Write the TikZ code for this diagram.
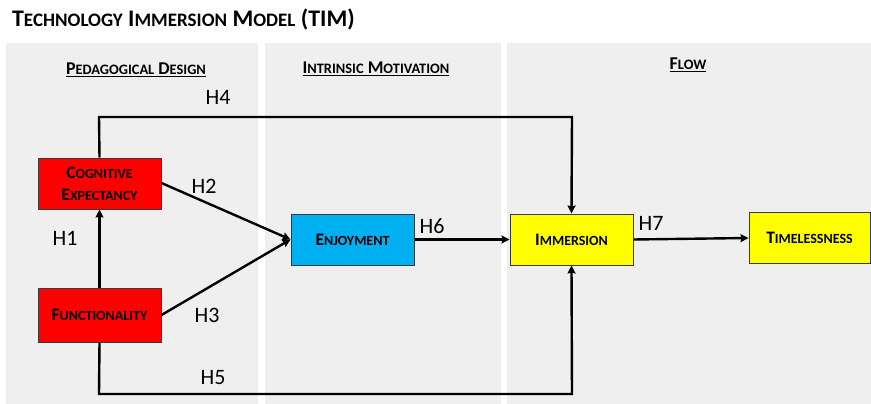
\documentclass[tikz,border=0pt]{standalone}
\usepackage{fontspec}
\setmainfont{Carlito}
\usetikzlibrary{arrows.meta}
\makeatletter
\newcommand\smc[1]{{\dimen0=\f@size pt\dimen0=0.8\dimen0\fontsize{\strip@pt\dimen0}{0}\selectfont #1}}
\makeatother
\definecolor{panelgray}{HTML}{EFEFEF}
\definecolor{boxred}{HTML}{FF0000}
\definecolor{boxblue}{HTML}{00B0F0}
\definecolor{boxyellow}{HTML}{FFFF00}
\definecolor{edgegray}{HTML}{3A3A3A}
\tikzset{
  panel/.style={fill=panelgray, draw=none},
  cbox/.style={draw=edgegray, line width=1pt, minimum width=123pt, minimum height=51pt, inner sep=0pt, align=center, font=\fontsize{17.5}{18}\selectfont\bfseries},
  conn/.style={line width=2.4pt, -{Stealth[length=8pt,width=8pt,inset=1pt]}},
  hlab/.style={font=\fontsize{22}{24}\selectfont, inner sep=0pt},
  header/.style={font=\fontsize{18}{20}\selectfont\bfseries, inner sep=0pt},
}
\begin{document}
\begin{tikzpicture}[x=1pt,y=-1pt]
\useasboundingbox (0,0) rectangle (871,404);
\fill[white] (0,0) rectangle (871,404);
% panels
\fill[panelgray] (6,43) rectangle (258,404);
\fill[panelgray] (265,43) rectangle (501,404);
\fill[panelgray] (507,43) rectangle (871,404);
% title
\node[anchor=west, inner sep=0pt, font=\fontsize{23.8}{26}\selectfont\bfseries] (title) at (12,19) {T\smc{ECHNOLOGY} I\smc{MMERSION} M\smc{ODEL} (TIM)};
% headers
\node[header] (h1) at (136,70) {\underline{P\smc{EDAGOGICAL} D\smc{ESIGN}}};
\node[header] (h2) at (376,69) {\underline{I\smc{NTRINSIC} M\smc{OTIVATION}}};
\node[header] (h3) at (688,65) {\underline{F\smc{LOW}}};
% boxes
\node[cbox, fill=boxred] (ce) at (99.5,183.5) {C\smc{OGNITIVE}\\[4pt]E\smc{XPECTANCY}};
\node[cbox, fill=boxred, minimum height=54pt] (fu) at (99.5,315) {F\smc{UNCTIONALITY}};
\node[cbox, fill=boxblue] (en) at (352.5,239.5) {E\smc{NJOYMENT}};
\node[cbox, fill=boxyellow] (im) at (571.5,239.5) {I\smc{MMERSION}};
\node[cbox, fill=boxyellow, minimum width=121pt] (ti) at (809.5,238) {T\smc{IMELESSNESS}};
% corner coordinates
\coordinate (c4a) at (99,117);
\coordinate (c4b) at (572,117);
\coordinate (c5a) at (99,394);
\coordinate (c5b) at (572,394);
% connectors
\draw[conn] (fu.north) -- (ce.south);
\draw[conn] (ce.east |- 0,183) -- (en.west);
\draw[conn] (fu.east) -- (en.west);
\draw[conn] (en.east) -- (im.west);
\draw[conn] (im.east) -- (ti.west);
\draw[conn] (ce.north) -- (c4a) -- (c4b) -- (im.north);
\draw[conn] (fu.south) -- (c5a) -- (c5b) -- (im.south);
% labels
\node[hlab] (l1) at (65,238) {H1};
\node[hlab] (l2) at (204,186) {H2};
\node[hlab] (l3) at (207,315) {H3};
\node[hlab] (l4) at (218,97) {H4};
\node[hlab] (l5) at (213,378) {H5};
\node[hlab] (l6) at (432,226) {H6};
\node[hlab] (l7) at (651,223) {H7};
\end{tikzpicture}
\end{document}
